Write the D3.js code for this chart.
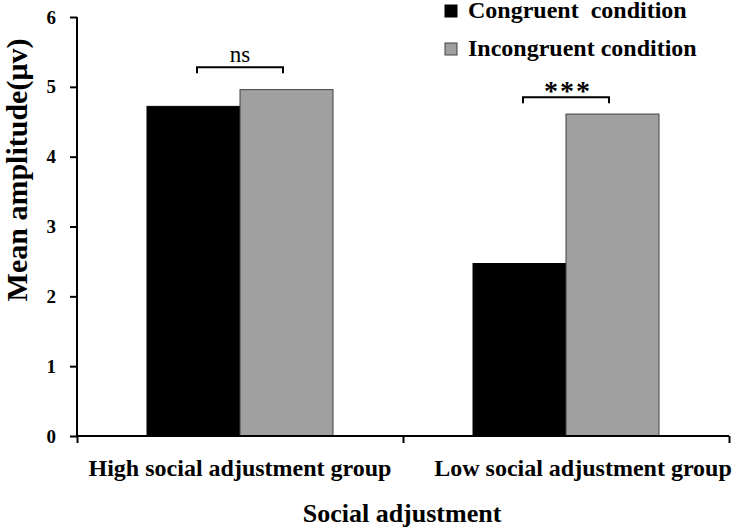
<!DOCTYPE html>
<html>
<head>
<meta charset="utf-8">
<script src="https://cdn.jsdelivr.net/npm/d3@7"></script>
<style>
  html, body { margin: 0; padding: 0; background: #fff; }
  svg { display: block; }
  text { font-family: "Liberation Serif", "Times New Roman", serif; }
</style>
</head>
<body>
<script>
const groups = ["High social adjustment group", "Low social adjustment group"];
const conditions = ["Congruent  condition", "Incongruent condition"];
const congruent = [4.72, 2.47];
const incongruent = [4.96, 4.61];
const yTicks = [0, 1, 2, 3, 4, 5, 6];
const sigLabels = ["ns", "***"];
const sigLevels = [5.28, 4.85];

const W = 733, H = 529;
const colors = ["#000000", "#a0a0a0"];
const strokes = ["#000000", "#404040"];
const serif = "Liberation Serif, Times New Roman, serif";

const svg = d3.select("body").append("svg").attr("width", W).attr("height", H);

const y = d3.scaleLinear().domain([0, 6]).range([436, 17]);
const x0 = d3.scaleBand().domain(groups).range([77, 729]).padding(0);
const x1 = d3.scaleBand().domain(conditions).range([70, 256]).padding(0);

// bars
const data = groups.map((g, i) => ({ g, vals: [congruent[i], incongruent[i]] }));
const gGroups = svg.selectAll("g.grp").data(data).enter().append("g")
  .attr("class", "grp").attr("transform", d => `translate(${x0(d.g)},0)`);
gGroups.selectAll("rect").data(d => d.vals.map((v, j) => ({ v, j })))
  .enter().append("rect")
  .attr("x", d => x1(conditions[d.j]))
  .attr("width", x1.bandwidth())
  .attr("y", d => y(d.v))
  .attr("height", d => y(0) - y(d.v))
  .attr("fill", d => colors[d.j])
  .attr("stroke", d => strokes[d.j])
  .attr("stroke-width", 1);

// y axis
const yAxis = d3.axisLeft(y).tickValues(yTicks).tickSize(7).tickPadding(14).tickFormat(d3.format("d"));
const ya = svg.append("g").attr("transform", "translate(77,0)").call(yAxis);
ya.select(".domain").attr("d", `M0,${y(6)}V${y(0)}`).attr("stroke", "#000").attr("stroke-width", 2);
ya.selectAll(".tick line").attr("stroke", "#000").attr("stroke-width", 2);
ya.selectAll(".tick text").attr("font-size", 19).attr("font-weight", "bold")
  .attr("font-family", serif).attr("fill", "#000");

// x axis
const xAxis = d3.axisBottom(d3.scaleLinear().domain([0, 2]).range([77, 729]))
  .tickValues([0, 1, 2]).tickSize(7).tickFormat("");
const xa = svg.append("g").attr("transform", `translate(0,${y(0)})`).call(xAxis);
xa.select(".domain").attr("d", "M77,0H729").attr("stroke", "#000").attr("stroke-width", 2);
xa.selectAll(".tick line").attr("stroke", "#000").attr("stroke-width", 2);

// category labels
svg.selectAll("text.cat").data(groups).enter().append("text")
  .attr("class", "cat")
  .attr("x", (d, i) => x0(d) + x0.bandwidth() / 2 + (i === 1 ? 17 : 0))
  .attr("y", 476)
  .attr("text-anchor", "middle")
  .attr("font-size", 24).attr("font-weight", "bold")
  .text(d => d);

// axis titles
svg.append("text").attr("x", 402).attr("y", 522).attr("text-anchor", "middle")
  .attr("font-size", 26).attr("font-weight", "bold").text("Social adjustment");
svg.append("text").attr("transform", "translate(27,170) rotate(-90)")
  .attr("text-anchor", "middle").attr("font-size", 30).attr("font-weight", "bold")
  .text("Mean amplitude(μv)");

// significance brackets
groups.forEach((g, i) => {
  const cx = x0(g) + x0.bandwidth() / 2;
  const yy = y(sigLevels[i]);
  svg.append("path")
    .attr("d", `M${cx - 43},${yy + 6}V${yy}H${cx + 43}V${yy + 6}`)
    .attr("fill", "none").attr("stroke", "#000").attr("stroke-width", 2);
  svg.append("text").attr("x", i === 0 ? cx : cx + 2).attr("y", i === 0 ? yy - 5 : yy + 3)
    .attr("text-anchor", "middle")
    .attr("font-size", i === 0 ? 23 : 28)
    .attr("font-weight", i === 0 ? "normal" : "bold")
    .attr("font-family", i === 0 ? serif : "Liberation Sans, Arial, sans-serif")
    .attr("letter-spacing", i === 0 ? 0 : 2)
    .text(sigLabels[i]);
});

// legend
conditions.forEach((c, j) => {
  const ly = 18 + j * 38;
  svg.append("rect").attr("x", 445).attr("y", ly - 13).attr("width", 12).attr("height", 12)
    .attr("fill", colors[j]).attr("stroke", strokes[j]);
  svg.append("text").attr("x", 468).attr("y", ly).attr("font-size", 24).attr("font-weight", "bold")
    .attr("xml:space", "preserve").style("white-space", "pre").text(c);
});
</script>
</body>
</html>
